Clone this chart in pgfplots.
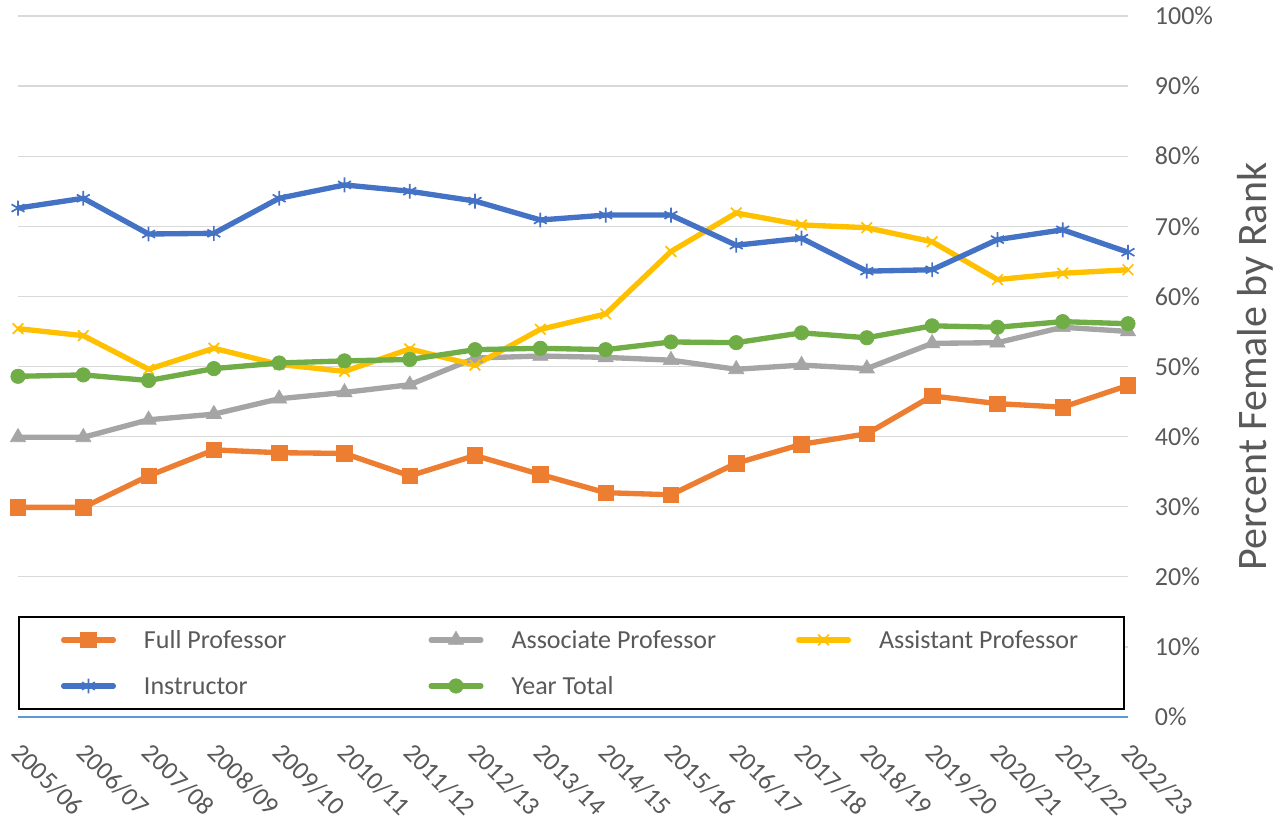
\documentclass[border=0pt]{standalone}
\usepackage{fontspec}
\setmainfont{Carlito}
\usepackage{pgfplots}
\pgfplotsset{compat=1.18}
\definecolor{FullC}{HTML}{ED7D31}
\definecolor{AssocC}{HTML}{A5A5A5}
\definecolor{AssistC}{HTML}{FFC000}
\definecolor{InstrC}{HTML}{4472C4}
\definecolor{TotalC}{HTML}{70AD47}
\definecolor{TextC}{HTML}{595959}
\definecolor{GridC}{HTML}{D9D9D9}
\definecolor{BaseC}{HTML}{5B9BD5}
\newcommand\legtxt[2][234.4pt]{\makebox[#1][l]{\hspace*{21pt}#2}}
\begin{document}
\begin{tikzpicture}
\useasboundingbox (-13.5pt,-78pt) rectangle (948.75pt,537.75pt);
\begin{axis}[
    scale only axis, width=832.5pt, height=525.75pt,
    xmin=0, xmax=17, ymin=0, ymax=100,
    clip=false,
    axis x line=bottom, axis y line*=right,
    x axis line style={draw=BaseC, line width=1.4pt, -},
    y axis line style={draw=none},
    major tick length=0pt,
    xtick={0,...,17},
    xticklabels={2005/06,2006/07,2007/08,2008/09,2009/10,2010/11,2011/12,2012/13,2013/14,2014/15,2015/16,2016/17,2017/18,2018/19,2019/20,2020/21,2021/22,2022/23},
    xticklabel style={font=\fontsize{19.5}{23}\selectfont, text=TextC, inner sep=0pt, xshift=3.75pt, yshift=-18pt, rotate=-45, anchor=north west},
    ytick={0,10,...,100},
    yticklabels={0\%,10\%,20\%,30\%,40\%,50\%,60\%,70\%,80\%,90\%,100\%},
    yticklabel style={font=\fontsize{19.5}{23}\selectfont, text=TextC, inner sep=0pt, anchor=west, xshift=20pt},
    ymajorgrids, grid style={GridC, line width=1pt},
    ylabel={Percent Female by Rank},
    ylabel style={font=\fontsize{31.5}{36}\selectfont, text=TextC, inner sep=0pt, at={(axis description cs:1.0982,0.5)}, anchor=north},
    legend columns=3,
    legend cell align=left,
    legend image code/.code={
        \draw[#1, line cap=round, mark=none] (2pt,0pt) -- (39.25pt,0pt);
        \draw[#1, only marks] plot coordinates {(20.6pt,0pt)};
    },
    legend style={at={(axis cs:0,1)}, anchor=south west, draw=black, line width=1.5pt, fill=white,
        inner xsep=31.5pt, inner ysep=0pt, column sep=0pt, row sep=0pt,
        font=\fontsize{19.5}{23}\selectfont, text=TextC,
        nodes={inner sep=0pt, text height=23.55pt, text depth=10.95pt, anchor=west}},
    every axis plot/.append style={line width=4pt},
]
\addplot[FullC, mark=square*, mark size=5.8pt, mark options={solid, line width=0.5pt, fill=FullC}] coordinates {
(0,29.9) (1,29.9) (2,34.4) (3,38.1) (4,37.7) (5,37.6) (6,34.4) (7,37.3) (8,34.6) (9,32.0) (10,31.7) (11,36.2) (12,38.9) (13,40.4) (14,45.8) (15,44.7) (16,44.2) (17,47.3)};
\addlegendentry{\legtxt{Full Professor}}
\addplot[AssocC, mark=triangle*, mark size=6.6pt, mark options={solid, line width=0.5pt, fill=AssocC}] coordinates {
(0,39.9) (1,39.9) (2,42.4) (3,43.2) (4,45.4) (5,46.3) (6,47.4) (7,51.2) (8,51.5) (9,51.3) (10,50.9) (11,49.6) (12,50.2) (13,49.7) (14,53.3) (15,53.4) (16,55.6) (17,55.0)};
\addlegendentry{\legtxt{Associate Professor}}
\addplot[AssistC, mark=x, mark size=5.6pt, mark options={solid, line width=1.3pt}] coordinates {
(0,55.4) (1,54.4) (2,49.6) (3,52.6) (4,50.3) (5,49.3) (6,52.5) (7,50.2) (8,55.3) (9,57.5) (10,66.4) (11,71.9) (12,70.2) (13,69.8) (14,67.8) (15,62.4) (16,63.3) (17,63.8)};
\addlegendentry{\legtxt[173.25pt]{Assistant Professor}}
\addplot[InstrC, mark=asterisk, mark size=5.6pt, mark options={solid, line width=1.3pt}] coordinates {
(0,72.6) (1,74.0) (2,68.9) (3,69.0) (4,74.0) (5,75.9) (6,75.0) (7,73.6) (8,70.9) (9,71.6) (10,71.6) (11,67.3) (12,68.3) (13,63.6) (14,63.8) (15,68.1) (16,69.5) (17,66.3)};
\addlegendentry{\legtxt{Instructor}}
\addplot[TotalC, mark=*, mark size=5.4pt, mark options={solid, line width=0.5pt, fill=TotalC}] coordinates {
(0,48.6) (1,48.8) (2,48.0) (3,49.7) (4,50.5) (5,50.8) (6,51.0) (7,52.4) (8,52.6) (9,52.4) (10,53.5) (11,53.4) (12,54.8) (13,54.1) (14,55.8) (15,55.6) (16,56.4) (17,56.1)};
\addlegendentry{\legtxt{Year Total}}
\end{axis}
\end{tikzpicture}
\end{document}
